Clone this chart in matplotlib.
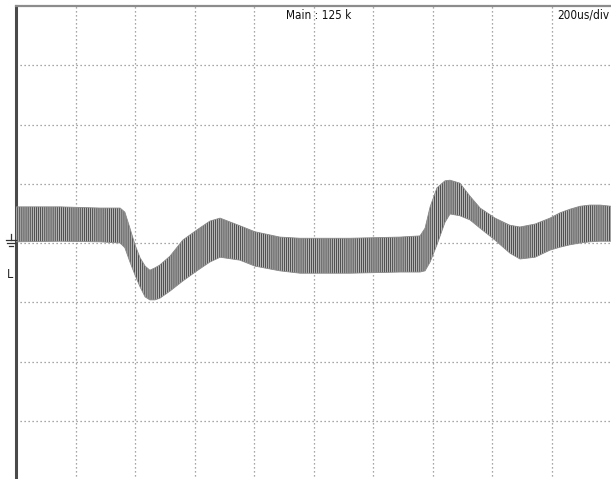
import matplotlib
matplotlib.use("Agg")
import matplotlib.pyplot as plt
from matplotlib.lines import Line2D

# ---- data (time in us, level in divisions) ----
time_us = [0, 148, 282, 350, 366, 383, 400, 417, 434, 450, 467, 484, 518, 561, 608,
           652, 686, 753, 803, 887, 955, 1123, 1291, 1358, 1375, 1392, 1415, 1442,
           1459, 1492, 1526, 1560, 1610, 1660, 1694, 1745, 1795, 1829, 1862, 1896,
           1929, 1963, 2000]
upper_env = [0.61, 0.61, 0.59, 0.59, 0.52, 0.25, -0.03, -0.25, -0.39, -0.46, -0.42,
             -0.37, -0.22, 0.05, 0.22, 0.37, 0.42, 0.29, 0.19, 0.10, 0.08, 0.08, 0.10,
             0.12, 0.25, 0.61, 0.93, 1.05, 1.06, 1.01, 0.79, 0.59, 0.42, 0.30, 0.27,
             0.32, 0.42, 0.51, 0.57, 0.62, 0.64, 0.64, 0.62]
lower_env = [0.02, 0.03, 0.02, 0.00, -0.08, -0.32, -0.54, -0.74, -0.91, -0.96, -0.96,
             -0.93, -0.81, -0.64, -0.47, -0.32, -0.24, -0.29, -0.39, -0.47, -0.51,
             -0.51, -0.49, -0.49, -0.47, -0.32, -0.03, 0.35, 0.49, 0.46, 0.39, 0.25,
             0.05, -0.17, -0.27, -0.24, -0.12, -0.07, -0.03, 0.00, 0.02, 0.03, 0.03]
x_divs = 10
y_divs = 8
us_per_div = 200
label_main = "Main : 125 k"
label_tdiv = "200us/div"

plt.rcParams['hatch.linewidth'] = 0.5
plt.rcParams['hatch.color'] = '#262626'
fig = plt.figure(figsize=(6.11, 4.79), dpi=100)
ax = fig.add_axes([16/611, -1/479, 595/611, 474/479])

ax.set_xlim(0, x_divs * us_per_div)
ax.set_ylim(-y_divs / 2, y_divs / 2)

ax.fill_between(time_us, lower_env, upper_env, facecolor='#b6b6b6',
                edgecolor='#262626', hatch='||||||||', linewidth=0, zorder=3)
ax.fill_between(time_us, lower_env, upper_env, facecolor='none',
                edgecolor='#8a8a8a', linewidth=0.6, zorder=4)

ax.set_xticks([i * us_per_div for i in range(1, x_divs)])
ax.set_yticks(range(-y_divs // 2 + 1, y_divs // 2))
ax.tick_params(length=0, labelbottom=False, labelleft=False)
ax.grid(True, color='#8a8a8a', linestyle=(0, (1, 2.2)), linewidth=0.9, zorder=1)

for s in ['right', 'bottom']:
    ax.spines[s].set_visible(False)
ax.spines['left'].set_color('#4a4a4a')
ax.spines['left'].set_linewidth(2.2)
ax.spines['top'].set_color('#8c8c8c')
ax.spines['top'].set_linewidth(1.6)

ax.text(0.508, 0.994, label_main, transform=ax.transAxes, ha='center', va='top',
        fontsize=8.5, family='DejaVu Sans', fontstretch='condensed', color='#111111')
ax.text(0.997, 0.994, label_tdiv, transform=ax.transAxes, ha='right', va='top',
        fontsize=8.5, family='DejaVu Sans', fontstretch='condensed', color='#111111')

# ground symbol (no installed glyph) drawn as short lines, and trigger level "L"
W, H = 611, 479
for (x0, x1, yy) in [(6, 16, 240), (7, 15, 243), (9, 13, 246)]:
    fig.add_artist(Line2D([x0 / W, x1 / W], [1 - yy / H, 1 - yy / H],
                          color='#333333', linewidth=0.9))
fig.add_artist(Line2D([11 / W, 11 / W], [1 - 234 / H, 1 - 240 / H],
                      color='#333333', linewidth=0.9))
fig.text(10 / W, 1 - 274 / H, "L", ha='center', va='center', fontsize=9,
         family='DejaVu Sans', fontstretch='condensed', color='#222222')

fig.savefig("out.png", dpi=100)
